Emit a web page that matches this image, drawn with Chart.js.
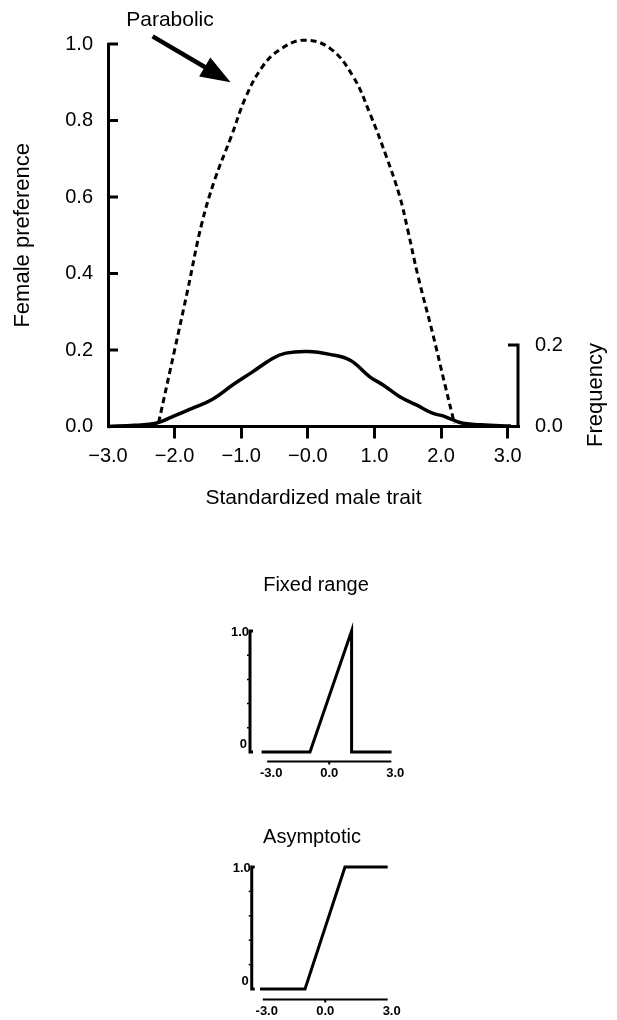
<!DOCTYPE html>
<html>
<head>
<meta charset="utf-8">
<script src="https://cdn.jsdelivr.net/npm/chart.js@4.4.1/dist/chart.umd.min.js"></script>
<style>
  html, body { margin: 0; padding: 0; background: #fff; }
  body { position: relative; width: 617px; height: 1020px; overflow: hidden; }
  canvas { position: absolute; }
  #main { left: 0; top: 0; }
  #fixed { left: 196px; top: 565px; }
  #asym { left: 192px; top: 815px; }
</style>
</head>
<body>
<canvas id="main" width="617" height="530"></canvas>
<canvas id="fixed" width="240" height="220"></canvas>
<canvas id="asym" width="240" height="205"></canvas>
<script>
const FONT = '"Liberation Sans", Arial, Helvetica, sans-serif';

// main panel
const traitTicks = [-3, -2, -1, 0, 1, 2, 3];
const traitTickLabels = ['\u22123.0', '\u22122.0', '\u22121.0', '\u22120.0', '1.0', '2.0', '3.0'];
const prefTicks = [0, 0.2, 0.4, 0.6, 0.8, 1.0];
const prefTickLabels = ['0.0', '0.2', '0.4', '0.6', '0.8', '1.0'];
const freqTicks = [0, 0.2];
const freqTickLabels = ['0.0', '0.2'];

// parabolic female preference (dashed)
const prefX = [-2.24, -2.0, -1.8, -1.6, -1.4, -1.15, -0.93, -0.68, -0.43, -0.07, 0.33, 0.68, 0.93, 1.18, 1.38, 1.5, 1.65, 1.88, 2.06, 2.2];
const prefY = [0.01, 0.2, 0.36, 0.525, 0.644, 0.758, 0.862, 0.941, 0.984, 1.01, 0.989, 0.915, 0.819, 0.705, 0.601, 0.514, 0.396, 0.239, 0.108, 0.008];

// male trait frequency (solid)
const freqX = [-3.0, -2.6, -2.28, -2.03, -1.73, -1.43, -1.13, -0.83, -0.53, -0.33, 0.0, 0.33, 0.63, 0.93, 1.13, 1.38, 1.63, 1.88, 2.03, 2.18, 2.33, 2.6, 3.05];
const freqY = [0, 0.003, 0.008, 0.024, 0.045, 0.067, 0.102, 0.134, 0.167, 0.18, 0.184, 0.177, 0.163, 0.122, 0.102, 0.073, 0.053, 0.032, 0.026, 0.016, 0.008, 0.004, 0.001];

// small panels
const smallTicks = [-3, 0, 3];
const smallTickLabels = ['-3.0', '0.0', '3.0'];
const fixedX = [-3.27, -0.93, 1.08, 1.08, 3.01];
const fixedY = [0, 0, 1, 0, 0];
const asymX = [-3.13, -0.97, 0.95, 3.0];
const asymY = [0, 0, 1, 1];

const toPoints = (xs, ys) => xs.map((x, i) => ({ x: x, y: ys[i] }));

const mainExtras = {
  id: 'mainExtras',
  afterDraw(chart) {
    const { ctx, chartArea, scales: { x, y, y2 } } = chart;
    ctx.save();
    ctx.strokeStyle = '#000';
    ctx.fillStyle = '#000';
    ctx.lineWidth = 3;

    // inward ticks on the preference axis
    prefTicks.forEach(v => {
      if (v === 0) return;
      const py = y.getPixelForValue(v);
      ctx.beginPath();
      ctx.moveTo(chartArea.left, py);
      ctx.lineTo(chartArea.left + 10, py);
      ctx.stroke();
    });

    // short frequency axis on the right
    const rx = chartArea.right - 1;
    ctx.beginPath();
    ctx.moveTo(rx - 10, y2.getPixelForValue(0.2));
    ctx.lineTo(rx, y2.getPixelForValue(0.2));
    ctx.lineTo(rx, y2.getPixelForValue(0));
    ctx.stroke();

    ctx.font = '22px ' + FONT;
    ctx.textAlign = 'center';
    ctx.textBaseline = 'middle';
    ctx.save();
    ctx.translate(596, 395);
    ctx.rotate(-Math.PI / 2);
    ctx.fillText('Frequency', 0, 0);
    ctx.restore();

    // "Parabolic" label with arrow
    ctx.font = '21px ' + FONT;
    ctx.fillText('Parabolic', 170, 20);
    const tx = x.getPixelForValue(-2.33), ty = y.getPixelForValue(1.02);
    const hx = x.getPixelForValue(-1.16), hy = y.getPixelForValue(0.9);
    const ang = Math.atan2(hy - ty, hx - tx);
    const headLen = 30, headHalf = 11;
    const bx = hx - headLen * Math.cos(ang), by = hy - headLen * Math.sin(ang);
    ctx.lineWidth = 4.5;
    ctx.beginPath();
    ctx.moveTo(tx, ty);
    ctx.lineTo(bx + 2 * Math.cos(ang), by + 2 * Math.sin(ang));
    ctx.stroke();
    ctx.beginPath();
    ctx.moveTo(hx, hy);
    ctx.lineTo(bx + headHalf * Math.sin(ang), by - headHalf * Math.cos(ang));
    ctx.lineTo(bx - headHalf * Math.sin(ang), by + headHalf * Math.cos(ang));
    ctx.closePath();
    ctx.fill();
    ctx.restore();
  }
};

new Chart(document.getElementById('main'), {
  type: 'line',
  data: {
    datasets: [
      {
        label: 'Parabolic preference',
        data: toPoints(prefX, prefY),
        yAxisID: 'y',
        borderColor: '#000',
        borderWidth: 3,
        borderDash: [6, 4],
        pointRadius: 0,
        tension: 0.4,
        clip: false
      },
      {
        label: 'Frequency',
        data: toPoints(freqX, freqY),
        yAxisID: 'y2',
        borderColor: '#000',
        borderWidth: 3.5,
        pointRadius: 0,
        tension: 0.4,
        clip: false
      }
    ]
  },
  options: {
    responsive: false,
    animation: false,
    layout: { padding: { top: 44, left: 0, right: 0, bottom: 0 } },
    plugins: { legend: { display: false }, tooltip: { enabled: false } },
    scales: {
      x: {
        type: 'linear',
        min: -3,
        max: 3.17,
        afterBuildTicks: s => { s.ticks = traitTicks.map(v => ({ value: v })); },
        afterFit: s => { s.height = 103.5; },
        ticks: {
          callback: (v, i) => traitTickLabels[i],
          color: '#000',
          font: { family: FONT, size: 20 },
          padding: 6,
          maxRotation: 0,
          autoSkip: false
        },
        grid: {
          drawOnChartArea: false,
          drawTicks: true,
          tickLength: 12,
          tickWidth: 3,
          tickColor: c => (c.tick && c.tick.value === -3) ? 'rgba(0,0,0,0)' : '#000'
        },
        border: { display: true, color: '#000', width: 3 },
        title: {
          display: true,
          text: 'Standardized male trait',
          color: '#000',
          font: { family: FONT, size: 21 },
          padding: { top: 0, bottom: 19 }
        }
      },
      y: {
        position: 'left',
        min: 0,
        max: 1,
        afterBuildTicks: s => { s.ticks = prefTicks.map(v => ({ value: v })); },
        afterFit: s => { s.width = 108; },
        ticks: {
          callback: (v, i) => prefTickLabels[i],
          color: '#000',
          font: { family: FONT, size: 20 },
          padding: 15
        },
        grid: { display: false, drawTicks: false },
        border: { display: true, color: '#000', width: 3 },
        title: {
          display: true,
          text: 'Female preference',
          color: '#000',
          font: { family: FONT, size: 22 },
          padding: { top: 10, bottom: 0 }
        }
      },
      y2: {
        position: 'right',
        min: 0,
        max: 0.9387,
        afterBuildTicks: s => { s.ticks = freqTicks.map(v => ({ value: v })); },
        afterFit: s => { s.width = 98; },
        ticks: {
          callback: (v, i) => freqTickLabels[i],
          color: '#000',
          font: { family: FONT, size: 20 },
          padding: 16
        },
        grid: { display: false, drawTicks: false },
        border: { display: false }
      }
    }
  },
  plugins: [mainExtras]
});

function smallAxes(o) {
  return {
    id: 'smallAxes',
    afterDraw(chart) {
      const { ctx, scales: { x, y } } = chart;
      const ax = x.getPixelForValue(o.yAxisAt);
      const y0 = y.getPixelForValue(0), y1 = y.getPixelForValue(1);
      ctx.save();
      ctx.strokeStyle = '#000';
      ctx.fillStyle = '#000';
      ctx.lineWidth = 3;
      ctx.beginPath();
      ctx.moveTo(ax + 3, y1);
      ctx.lineTo(ax, y1);
      ctx.lineTo(ax, y0);
      ctx.lineTo(ax + 3, y0);
      ctx.stroke();
      ctx.lineWidth = 1.5;
      [0.2, 0.4, 0.6, 0.8].forEach(v => {
        const py = y.getPixelForValue(v);
        ctx.beginPath();
        ctx.moveTo(ax - 3, py);
        ctx.lineTo(ax - 1, py);
        ctx.stroke();
      });
      ctx.font = 'bold 13px ' + FONT;
      ctx.textAlign = 'right';
      ctx.textBaseline = 'middle';
      ctx.fillText('1.0', ax - 1, y1 + 1);
      ctx.fillText('0', ax - 3, y0 - 8);

      // separate x axis under the plot
      const ay = y0 + o.axisGap;
      ctx.lineWidth = 2;
      ctx.beginPath();
      ctx.moveTo(x.getPixelForValue(-3), ay);
      ctx.lineTo(x.getPixelForValue(3), ay);
      ctx.stroke();
      ctx.beginPath();
      ctx.moveTo(x.getPixelForValue(0), ay);
      ctx.lineTo(x.getPixelForValue(0), ay + 3);
      ctx.stroke();
      ctx.textAlign = 'center';
      smallTicks.forEach((v, i) => {
        const px = x.getPixelForValue(v) + (v === 0 ? 0 : 4);
        ctx.fillText(smallTickLabels[i], px, ay + 11.5);
      });
      ctx.restore();
    }
  };
}

function drawSmall(id, title, xs, ys, o) {
  new Chart(document.getElementById(id), {
    type: 'line',
    data: {
      datasets: [{
        label: title,
        data: toPoints(xs, ys),
        borderColor: '#000',
        borderWidth: 3,
        pointRadius: 0,
        tension: 0,
        clip: false
      }]
    },
    options: {
      responsive: false,
      animation: false,
      layout: { padding: { top: 0, left: 36, right: 36, bottom: o.bottom } },
      plugins: {
        legend: { display: false },
        tooltip: { enabled: false },
        title: {
          display: true,
          text: title,
          color: '#000',
          font: { family: FONT, size: 20, weight: 'normal' },
          padding: o.titlePadding
        }
      },
      scales: {
        x: { type: 'linear', display: false, min: o.xMin, max: o.xMax },
        y: { display: false, min: 0, max: 1 }
      }
    },
    plugins: [smallAxes(o)]
  });
}

drawSmall('fixed', 'Fixed range', fixedX, fixedY, {
  xMin: -4.7, xMax: 3.42, yAxisAt: -3.83, axisGap: 9.5,
  bottom: 33, titlePadding: { top: 8, bottom: 34 }
});

drawSmall('asym', 'Asymptotic', asymX, asymY, {
  xMin: -4.67, xMax: 3.4, yAxisAt: -3.53, axisGap: 10.5,
  bottom: 31, titlePadding: { top: 10, bottom: 18 }
});
</script>
</body>
</html>
